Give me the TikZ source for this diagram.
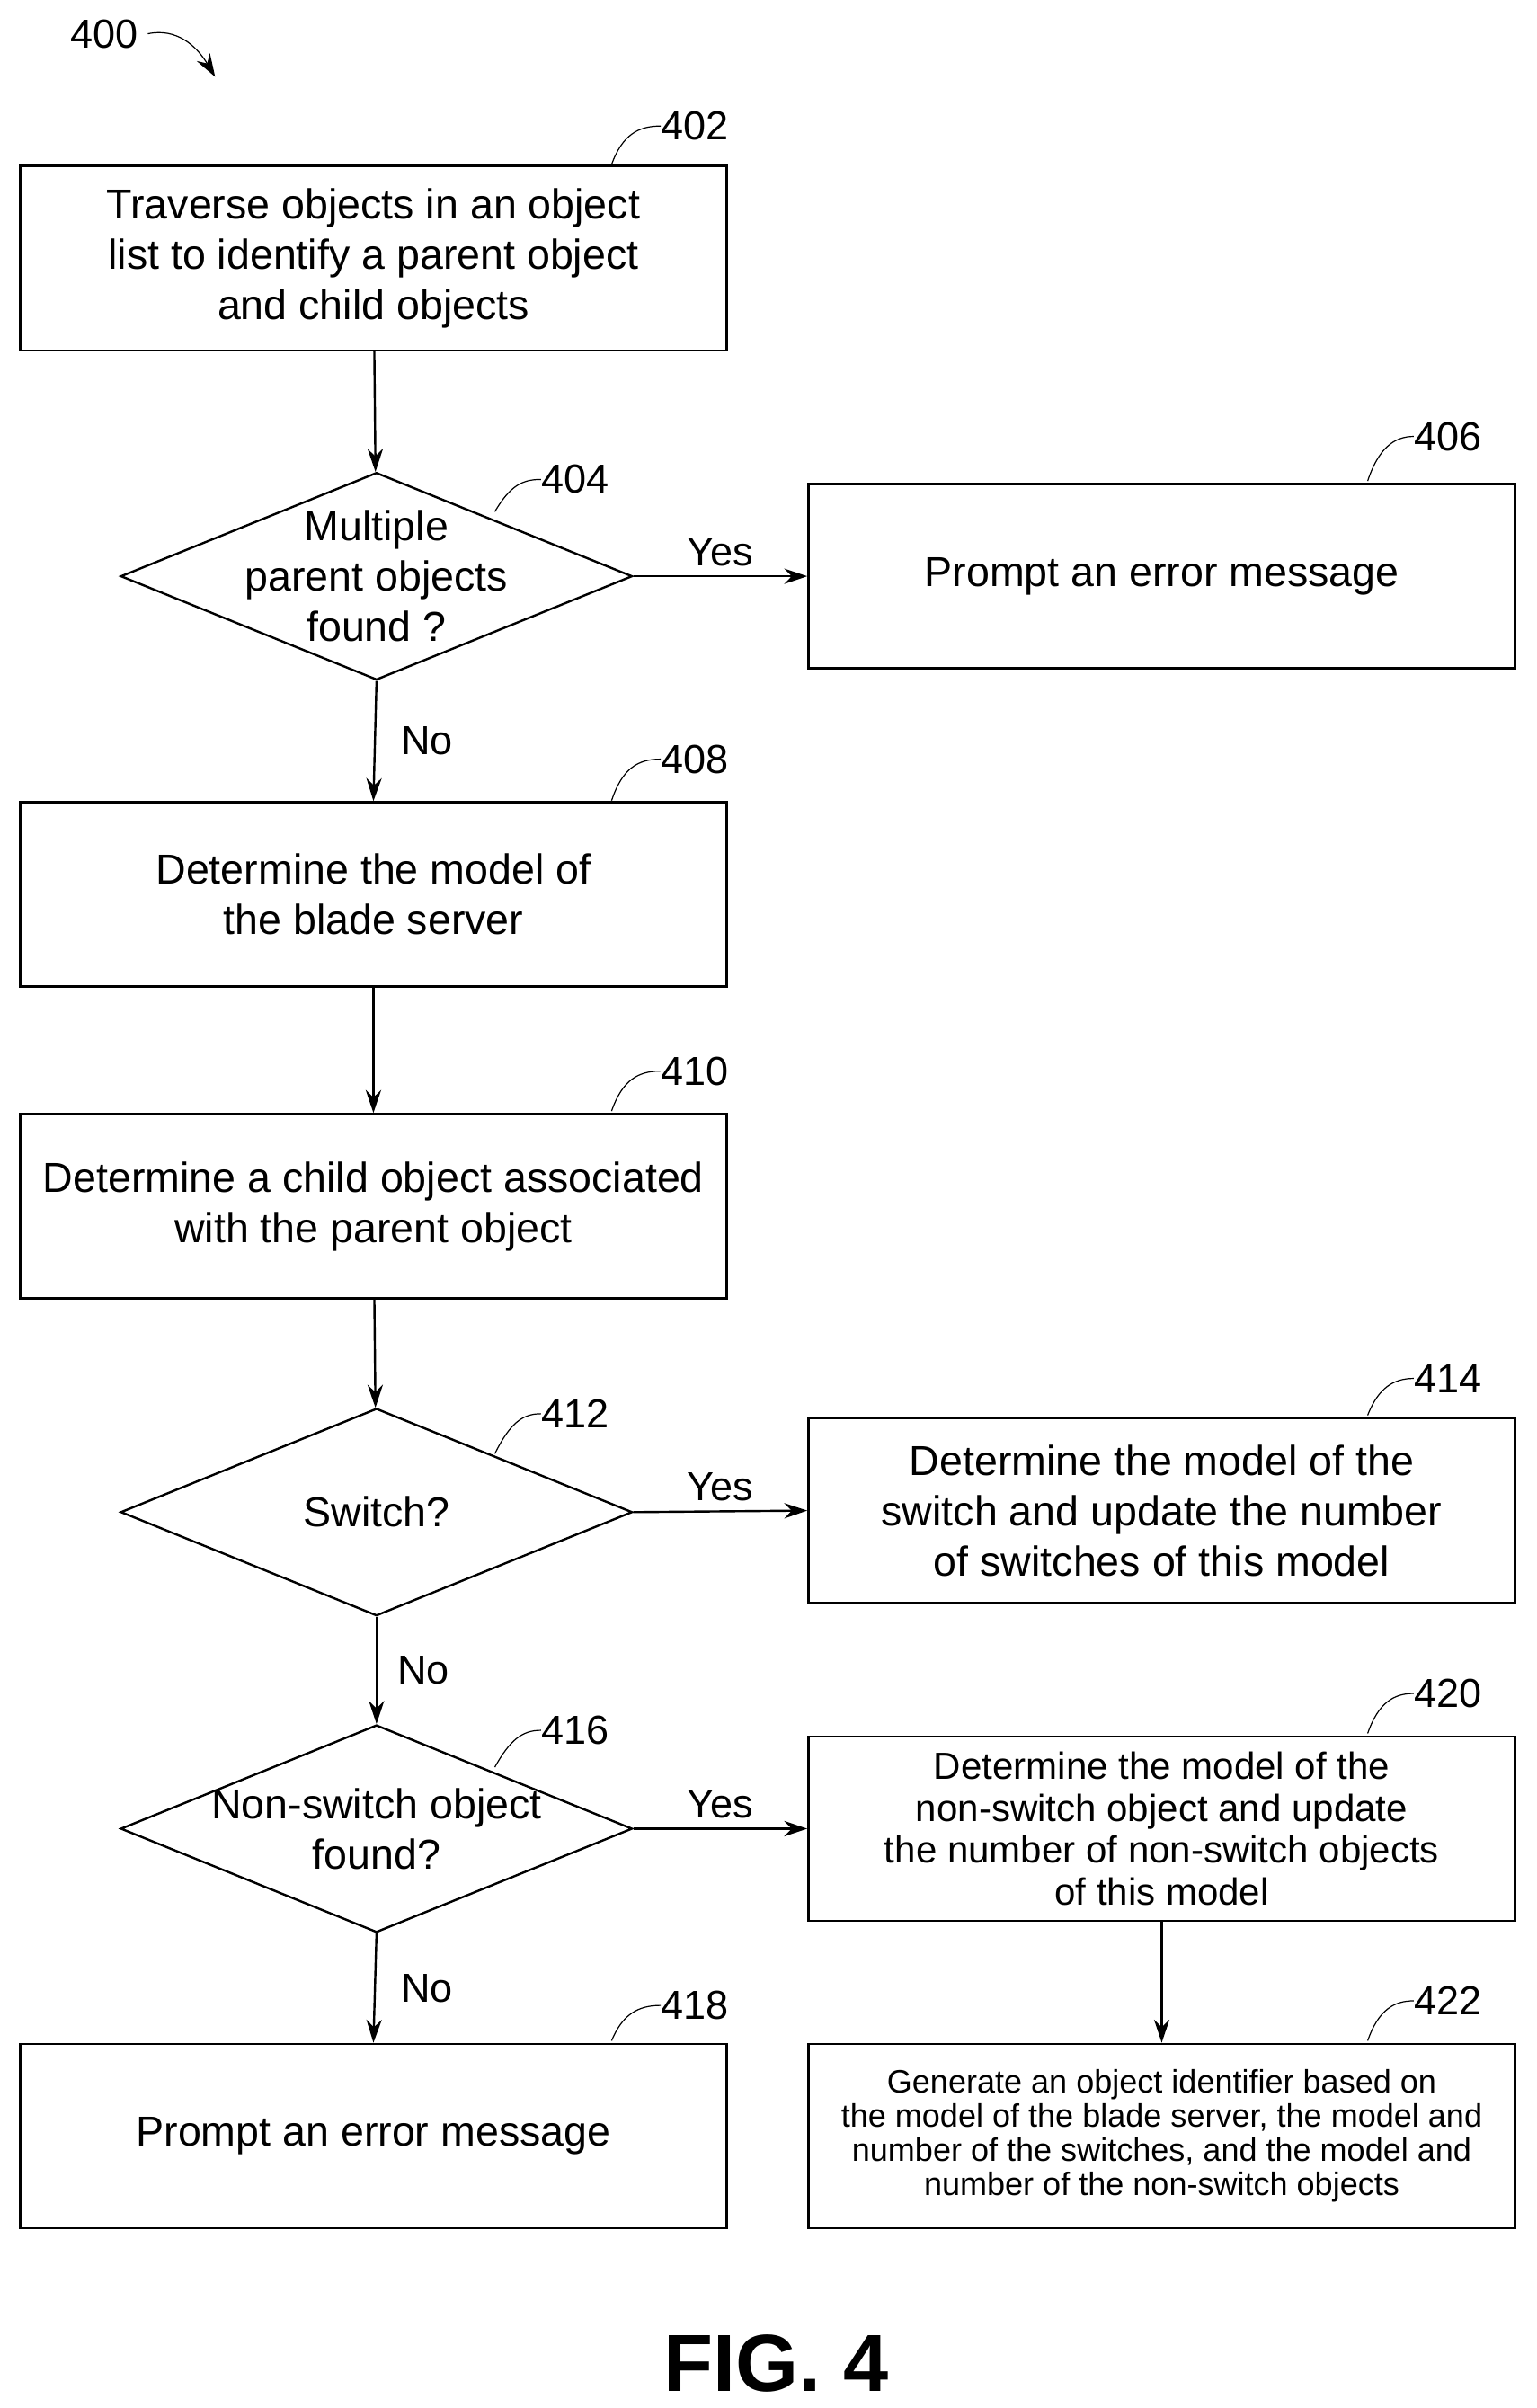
\documentclass[tikz,border=0pt]{standalone}
\usepackage{fontspec}
\setmainfont{Liberation Sans}
\usetikzlibrary{arrows.meta,shapes.geometric}

\tikzset{
  box/.style={draw, thick, minimum width=9.2cm, minimum height=2.4cm, align=center, font=\fontsize{15.5}{18.7}\selectfont, inner sep=1pt},
  dia/.style={draw, thick, diamond, minimum width=6.66cm, minimum height=2.7cm, inner sep=0pt},
  txt/.style={align=center, font=\fontsize{15.5}{18.7}\selectfont},
  lbl/.style={font=\fontsize{15}{18}\selectfont},
  flow/.style={-{Stealth[length=3mm,width=2mm]}, thick},
  lead/.style={thin}
}

\begin{document}
\begin{tikzpicture}[x=0.02cm, y=-0.02cm]
  \useasboundingbox (0,0) rectangle (1000,1567);

  % figure number
  \node[lbl] (n400) at (68,22) {400};
  \draw[flow, thin] (n400.east) .. controls (115,18) and (128,30) .. (140,50);

  % boxes and decisions
  \node[box] (b402) at (243,168) {Traverse objects in an object\\list to identify a parent object\\and child objects};
  \node[dia] (d404) at (245,375) {};
  \node[txt] at (d404) {Multiple\\parent objects\\found ?};
  \node[box] (b406) at (756,375) {Prompt an error message};
  \node[box] (b408) at (243,582) {Determine the model of\\the blade server};
  \node[box] (b410) at (243,785) {Determine a child object associated\\with the parent object};
  \node[dia] (d412) at (245,984) {};
  \node[txt] at (d412) {Switch?};
  \node[box] (b414) at (756,983) {Determine the model of the\\switch and update the number\\of switches of this model};
  \node[dia] (d416) at (245,1190) {};
  \node[txt] at (d416) {Non-switch object\\found?};
  \node[box, font=\fontsize{14}{15.5}\selectfont] (b420) at (756,1190) {Determine the model of the\\non-switch object and update\\the number of non-switch objects\\of this model};
  \node[box] (b418) at (243,1390) {Prompt an error message};
  \node[box, font=\fontsize{12}{12.6}\selectfont] (b422) at (756,1390) {Generate an object identifier based on\\the model of the blade server, the model and\\number of the switches, and the model and\\number of the non-switch objects};

  % connectors
  \draw[flow] (b402) -- (d404);
  \draw[flow] (d404.east) -- node[above, lbl] {Yes} (b406.west);
  \draw[flow] (d404.south) -- node[right, lbl, xshift=6pt] {No} (b408.north);
  \draw[flow] (b408) -- (b410);
  \draw[flow] (b410) -- (d412);
  \draw[flow] (d412.east) -- node[above, lbl] {Yes} (b414.west);
  \draw[flow] (d412.south) -- node[right, lbl, xshift=4pt] {No} (d416.north);
  \draw[flow] (d416.east) -- node[above, lbl] {Yes} (b420.west);
  \draw[flow] (d416.south) -- node[right, lbl, xshift=6pt] {No} (b418.north);
  \draw[flow] (b420) -- (b422);

  % reference numerals
  \draw[lead] (398,107) .. controls (405,88) and (415,82) .. (430,82) node[right, lbl, inner sep=0pt] {402};
  \draw[lead] (322,333) .. controls (332,316) and (340,312) .. (352,312) node[right, lbl, inner sep=0pt] {404};
  \draw[lead] (890,313) .. controls (897,292) and (907,284) .. (920,284) node[right, lbl, inner sep=0pt] {406};
  \draw[lead] (398,521) .. controls (405,500) and (415,494) .. (430,494) node[right, lbl, inner sep=0pt] {408};
  \draw[lead] (398,723) .. controls (405,703) and (415,697) .. (430,697) node[right, lbl, inner sep=0pt] {410};
  \draw[lead] (322,946) .. controls (332,926) and (340,920) .. (352,920) node[right, lbl, inner sep=0pt] {412};
  \draw[lead] (890,921) .. controls (897,903) and (907,897) .. (920,897) node[right, lbl, inner sep=0pt] {414};
  \draw[lead] (322,1150) .. controls (332,1132) and (340,1126) .. (352,1126) node[right, lbl, inner sep=0pt] {416};
  \draw[lead] (890,1128) .. controls (897,1108) and (907,1102) .. (920,1102) node[right, lbl, inner sep=0pt] {420};
  \draw[lead] (398,1328) .. controls (405,1311) and (415,1305) .. (430,1305) node[right, lbl, inner sep=0pt] {418};
  \draw[lead] (890,1328) .. controls (897,1308) and (907,1302) .. (920,1302) node[right, lbl, inner sep=0pt] {422};

  \node[font=\bfseries\fontsize{30}{34}\selectfont] (fig) at (505,1538) {FIG. 4};
\end{tikzpicture}
\end{document}
